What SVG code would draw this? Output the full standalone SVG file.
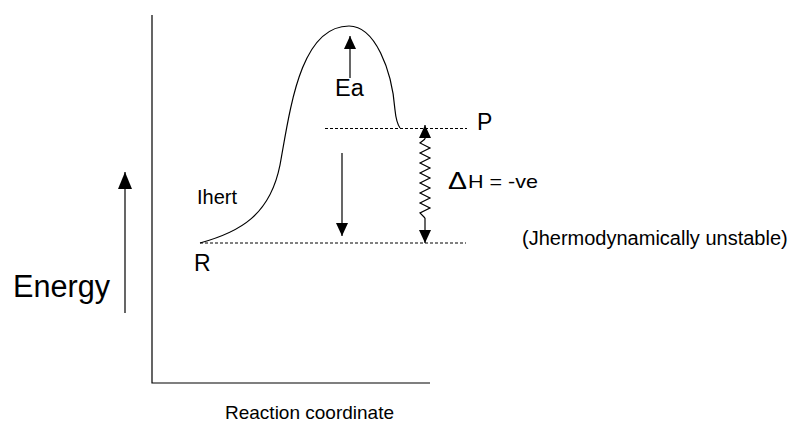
<svg xmlns="http://www.w3.org/2000/svg" width="792" height="423" viewBox="0 0 792 423">
<defs>
<marker id="ah" markerWidth="13" markerHeight="12" refX="13" refY="6" orient="auto" markerUnits="userSpaceOnUse" viewBox="0 0 13 12"><path d="M0,0 L13,6 L0,12 Z" fill="#000"/></marker>
<marker id="ahb" markerWidth="17" markerHeight="14" refX="17" refY="7" orient="auto" markerUnits="userSpaceOnUse" viewBox="0 0 17 14"><path d="M0,0 L17,7 L0,14 Z" fill="#000"/></marker>
</defs>
<style>
text{font-family:"Liberation Sans",Arial,sans-serif;fill:#000}
.ln{stroke:#000;stroke-width:1.2;fill:none}
.d{stroke:#000;stroke-width:1;stroke-dasharray:3,2;fill:none}
</style>
<rect width="792" height="423" fill="#fff"/>
<g id="axes">
<path class="ln" d="M152,15 V383 H430"/>
</g>
<g id="curve">
<path class="ln" d="M200,243 C240,232 270,215 280,165 C290,110 300,26 349,26 C375,26 392,70 395,110 C396,120 398,125 400,128"/>
</g>
<g id="connectors">
<path class="d" d="M325,128.5 H467"/>
<path class="d" d="M200,243 H466"/>
<path class="ln" d="M125,313 V172" marker-end="url(#ahb)"/>
<path class="ln" d="M350,78 V36" marker-end="url(#ah)"/>
<path class="ln" d="M342,153 V236" marker-end="url(#ah)"/>
<path class="ln" d="M425,139 V125" marker-end="url(#ah)"/>
<path class="ln" d="M425,218 V243" marker-end="url(#ah)"/>
<path class="ln" d="M425,139 L420,143 L430,148 L420,153 L430,158 L420,163 L430,168 L420,173 L430,178 L420,183 L430,188 L420,193 L430,198 L420,203 L430,208 L420,213 L425,218"/>
</g>
<g id="labels">
<text x="13" y="297" font-size="31" textLength="97" lengthAdjust="spacingAndGlyphs">Energy</text>
<text x="225" y="419" font-size="19">Reaction coordinate</text>
<text x="335" y="96" font-size="23.5">Ea</text>
<text x="477" y="130" font-size="23">P</text>
<text x="194" y="271" font-size="23">R</text>
<text x="197" y="204" font-size="21" textLength="40" lengthAdjust="spacingAndGlyphs">Ihert</text>
<text x="448" y="189" font-size="23" textLength="19" lengthAdjust="spacingAndGlyphs">Δ</text>
<text x="468" y="188" font-size="19" textLength="70" lengthAdjust="spacingAndGlyphs">H = -ve</text>
<text x="522" y="245" font-size="20">(Jhermodynamically unstable)</text>
</g>
</svg>
